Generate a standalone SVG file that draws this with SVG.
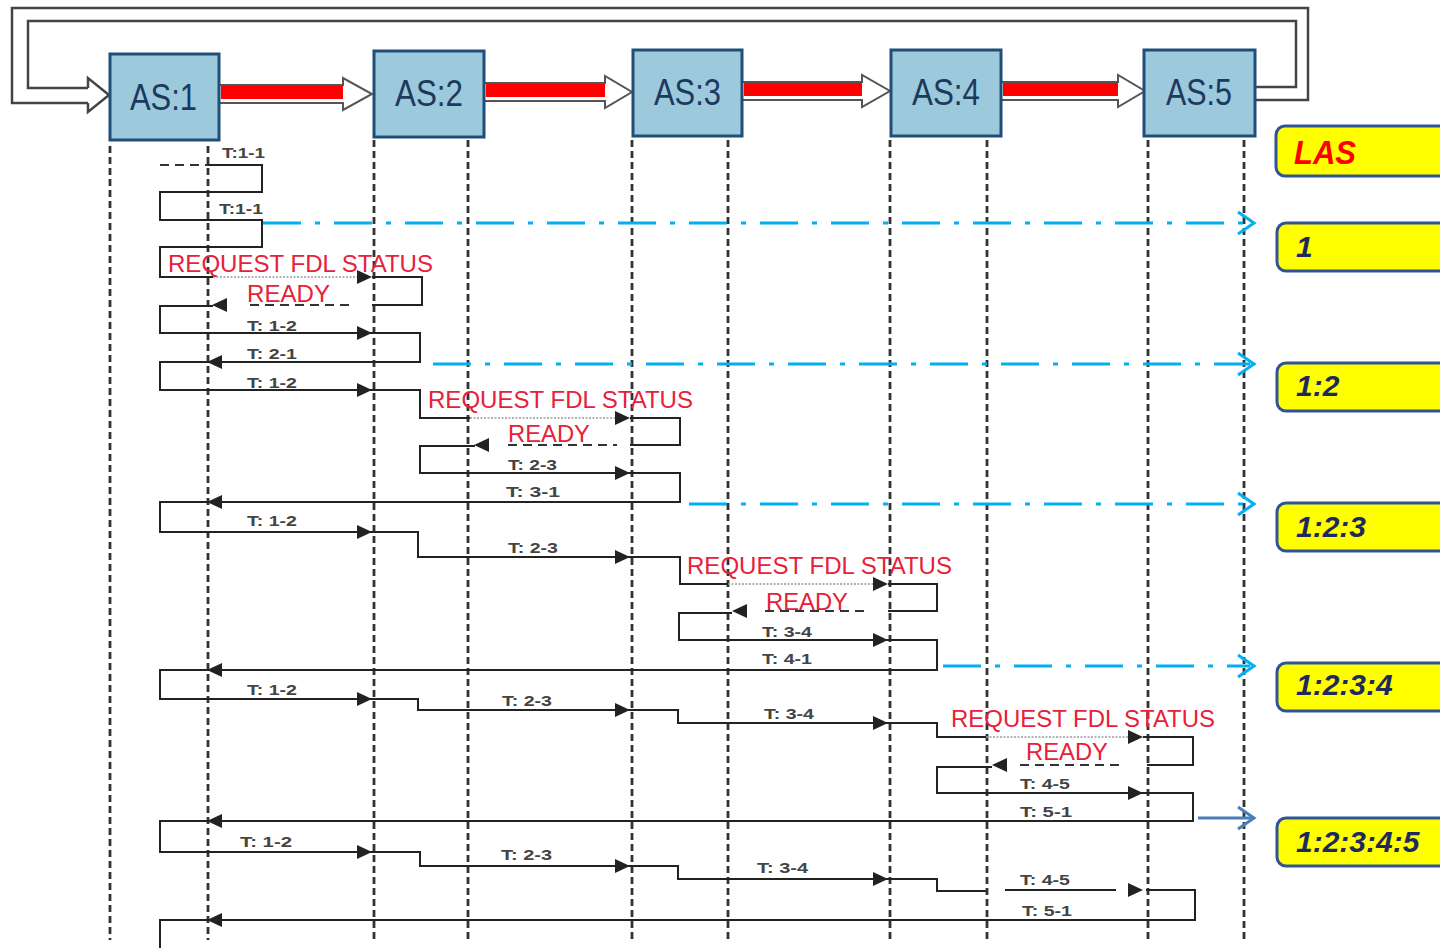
<svg xmlns="http://www.w3.org/2000/svg" width="1440" height="948" viewBox="0 0 1440 948">
<style>
.ll{stroke:#333;stroke-width:2.8;stroke-dasharray:7 4;fill:none}
.ln{stroke:#222;stroke-width:2;fill:none}
.faint{stroke:#9a9a9a;stroke-width:1.3;stroke-dasharray:2 1.5;fill:none}
.dsh{stroke:#333;stroke-width:2;stroke-dasharray:9 6;fill:none}
.blue{stroke:#00b0f0;stroke-width:3;stroke-dasharray:38 14 5 14;fill:none}
.chev{stroke:#00b0f0;stroke-width:3;fill:none}
.loop{stroke:#444;stroke-width:2.5;fill:none}
.blk{fill:#fff;stroke:#555;stroke-width:2}
.red{fill:#ff0000}
.as rect{fill:#9dc9dc;stroke:#1f4e79;stroke-width:3}
.as text{font-family:"Liberation Sans",Arial,sans-serif;font-size:36px;fill:#1c3a5e}
.tl{font-family:"Liberation Sans",Arial,sans-serif;font-size:14px;font-weight:bold;fill:#444}
.req{font-family:"Liberation Sans",Arial,sans-serif;font-size:23.5px;fill:#e8203a}
.lab rect{fill:#ffff00;stroke:#2f5496;stroke-width:3}
.lab text{font-family:"Liberation Sans",Arial,sans-serif;font-size:30px;font-weight:bold;font-style:italic;fill:#1f2a5c}
</style>
<defs>
<path id="aR" d="M0,0 L-15,-7 L-15,7 Z" fill="#222"/>
<path id="aL" d="M0,0 L15,-7 L15,7 Z" fill="#222"/>
</defs>
<rect width="1440" height="948" fill="#fff"/>

<g id="ring">
<path class="loop" d="M1255,100 H1308 V8 H12 V103 H88"/>
<path class="loop" d="M1255,87 H1296 V21 H28 V88 H88"/>
<path class="loop" d="M88,88 V78 L109,95 L88,112 V103"/>
</g>

<g id="passes">
<path class="blk" d="M219,85 H343 V78 L372,94 L343,110 V103 H219"/>
<rect class="red" x="221" y="86" width="122" height="13"/>
<path class="blk" d="M484,83 H605 V76 L632,92 L605,108 V101 H484"/>
<rect class="red" x="486" y="84" width="119" height="13"/>
<path class="blk" d="M742,82 H862 V75 L890,91 L862,107 V100 H742"/>
<rect class="red" x="744" y="83" width="118" height="13"/>
<path class="blk" d="M1001,82 H1118 V75 L1145,91 L1118,107 V100 H1001"/>
<rect class="red" x="1003" y="83" width="115" height="13"/>
</g>

<g id="lifelines">
<path class="ll" d="M110,146 V940 M208,146 V940 M374,140 V940 M468,140 V940 M632,140 V940 M728,140 V940 M890,140 V940 M987,140 V940 M1148,140 V940 M1244,140 V940"/>
</g>

<g id="AS1" class="as"><rect x="110" y="54" width="109" height="86"/><text x="130" y="110" textLength="67" lengthAdjust="spacingAndGlyphs">AS:1</text></g>
<g id="AS2" class="as"><rect x="374" y="51" width="110" height="86"/><text x="395" y="106" textLength="68" lengthAdjust="spacingAndGlyphs">AS:2</text></g>
<g id="AS3" class="as"><rect x="633" y="50" width="109" height="86"/><text x="654" y="105" textLength="67" lengthAdjust="spacingAndGlyphs">AS:3</text></g>
<g id="AS4" class="as"><rect x="891" y="50" width="110" height="86"/><text x="912" y="105" textLength="68" lengthAdjust="spacingAndGlyphs">AS:4</text></g>
<g id="AS5" class="as"><rect x="1144" y="50" width="111" height="86"/><text x="1166" y="105" textLength="66" lengthAdjust="spacingAndGlyphs">AS:5</text></g>

<g id="connectors">
<path d="M160,165 H208" class="dsh"/>
<path class="ln" d="M208,165 H262 V192 H160 V220 H262 V247 H160 V277 H213"/>
<path class="faint" d="M213,277 H360"/>
<use href="#aR" x="372" y="277"/>
<path class="ln" d="M372,277 H422 V305 H372"/>
<path class="dsh" d="M250,305 H355"/>
<use href="#aL" x="212" y="305"/>
<path class="ln" d="M213,306 H160 V333 H420 V362 H160 V390 H420 V418 H470"/>
<use href="#aR" x="372" y="333"/>
<use href="#aL" x="207" y="362"/>
<use href="#aR" x="372" y="390"/>
<path class="faint" d="M470,418 H618"/>
<use href="#aR" x="630" y="418"/>
<path class="ln" d="M630,418 H680 V445 H630"/>
<path class="dsh" d="M508,445 H617"/>
<use href="#aL" x="474" y="445"/>
<path class="ln" d="M475,446 H420 V473 H680 V502 H160 V532 H418 V557 H680 V584 H728"/>
<use href="#aR" x="630" y="473"/>
<use href="#aL" x="207" y="502"/>
<use href="#aR" x="372" y="532"/>
<use href="#aR" x="630" y="557"/>
<path class="faint" d="M728,584 H874"/>
<use href="#aR" x="888" y="584"/>
<path class="ln" d="M888,584 H937 V611 H888"/>
<path class="dsh" d="M765,611 H868"/>
<use href="#aL" x="732" y="611"/>
<path class="ln" d="M732,613 H679 V640 H937 V670 H160 V699 H418 V710 H678 V723 H937 V737 H986"/>
<use href="#aR" x="888" y="640"/>
<use href="#aL" x="207" y="670"/>
<use href="#aR" x="372" y="699"/>
<use href="#aR" x="630" y="710"/>
<use href="#aR" x="888" y="723"/>
<path class="faint" d="M986,737 H1129"/>
<use href="#aR" x="1143" y="737"/>
<path class="ln" d="M1143,737 H1193 V765 H1147"/>
<path class="dsh" d="M1020,765 H1123"/>
<use href="#aL" x="992" y="765"/>
<path class="ln" d="M992,767 H937 V793 H1193 V821 H160 V852 H420 V866 H678 V879 H937 V891 H986"/>
<use href="#aR" x="1143" y="793"/>
<use href="#aL" x="207" y="821"/>
<use href="#aR" x="372" y="852"/>
<use href="#aR" x="630" y="866"/>
<use href="#aR" x="888" y="879"/>
<path class="ln" d="M1005,890 H1116"/>
<use href="#aR" x="1143" y="890"/>
<path class="ln" d="M1146,890 H1195 V920 H160 V948"/>
<use href="#aL" x="207" y="920"/>

<path class="blue" d="M263,223 H1250"/>
<path class="chev" d="M1238,212 L1254,223 L1238,234"/>
<path class="blue" d="M433,364 H1250"/>
<path class="chev" d="M1238,353 L1254,364 L1238,375"/>
<path class="blue" d="M689,504 H1250"/>
<path class="chev" d="M1238,493 L1254,504 L1238,515"/>
<path class="blue" d="M943,666 H1250"/>
<path class="chev" d="M1238,655 L1254,666 L1238,677"/>
<path d="M1198,818 H1252" stroke="#4a7ebb" stroke-width="3" fill="none"/>
<path d="M1238,807 L1254,818 L1238,829" stroke="#4a7ebb" stroke-width="3" fill="none"/>
</g>

<g id="token-labels">
<text class="tl" x="222" y="158" textLength="43" lengthAdjust="spacingAndGlyphs">T:1-1</text>
<text class="tl" x="219" y="214" textLength="44" lengthAdjust="spacingAndGlyphs">T:1-1</text>
<text class="tl" x="247" y="331" textLength="50" lengthAdjust="spacingAndGlyphs">T: 1-2</text>
<text class="tl" x="247" y="359" textLength="50" lengthAdjust="spacingAndGlyphs">T: 2-1</text>
<text class="tl" x="247" y="388" textLength="50" lengthAdjust="spacingAndGlyphs">T: 1-2</text>
<text class="tl" x="508" y="470" textLength="49" lengthAdjust="spacingAndGlyphs">T: 2-3</text>
<text class="tl" x="506" y="497" textLength="54" lengthAdjust="spacingAndGlyphs">T:  3-1</text>
<text class="tl" x="247" y="526" textLength="50" lengthAdjust="spacingAndGlyphs">T: 1-2</text>
<text class="tl" x="508" y="553" textLength="50" lengthAdjust="spacingAndGlyphs">T: 2-3</text>
<text class="tl" x="762" y="637" textLength="50" lengthAdjust="spacingAndGlyphs">T: 3-4</text>
<text class="tl" x="762" y="664" textLength="50" lengthAdjust="spacingAndGlyphs">T: 4-1</text>
<text class="tl" x="247" y="695" textLength="50" lengthAdjust="spacingAndGlyphs">T: 1-2</text>
<text class="tl" x="502" y="706" textLength="50" lengthAdjust="spacingAndGlyphs">T: 2-3</text>
<text class="tl" x="764" y="719" textLength="50" lengthAdjust="spacingAndGlyphs">T: 3-4</text>
<text class="tl" x="1020" y="789" textLength="50" lengthAdjust="spacingAndGlyphs">T: 4-5</text>
<text class="tl" x="1020" y="817" textLength="52" lengthAdjust="spacingAndGlyphs">T: 5-1</text>
<text class="tl" x="240" y="847" textLength="52" lengthAdjust="spacingAndGlyphs">T: 1-2</text>
<text class="tl" x="501" y="860" textLength="51" lengthAdjust="spacingAndGlyphs">T: 2-3</text>
<text class="tl" x="757" y="873" textLength="51" lengthAdjust="spacingAndGlyphs">T: 3-4</text>
<text class="tl" x="1020" y="885" textLength="50" lengthAdjust="spacingAndGlyphs">T: 4-5</text>
<text class="tl" x="1022" y="916" textLength="50" lengthAdjust="spacingAndGlyphs">T: 5-1</text>
</g>

<g id="fdl-labels">
<text class="req" x="168" y="272" textLength="265" lengthAdjust="spacingAndGlyphs">REQUEST FDL STATUS</text>
<text class="req" x="247" y="302" textLength="83" lengthAdjust="spacingAndGlyphs">READY</text>
<text class="req" x="428" y="408" textLength="265" lengthAdjust="spacingAndGlyphs">REQUEST FDL STATUS</text>
<text class="req" x="508" y="442" textLength="82" lengthAdjust="spacingAndGlyphs">READY</text>
<text class="req" x="687" y="574" textLength="265" lengthAdjust="spacingAndGlyphs">REQUEST FDL STATUS</text>
<text class="req" x="766" y="610" textLength="82" lengthAdjust="spacingAndGlyphs">READY</text>
<text class="req" x="951" y="727" textLength="264" lengthAdjust="spacingAndGlyphs">REQUEST FDL STATUS</text>
<text class="req" x="1026" y="760" textLength="82" lengthAdjust="spacingAndGlyphs">READY</text>
</g>

<g id="LAS" class="lab"><rect x="1276" y="126" width="190" height="50" rx="9"/><text x="1294" y="164" textLength="62" lengthAdjust="spacingAndGlyphs" style="fill:#ff0000;font-size:34px">LAS</text></g>
<g id="L1" class="lab"><rect x="1277" y="223" width="190" height="48" rx="9"/><text x="1296" y="257">1</text></g>
<g id="L12" class="lab"><rect x="1277" y="363" width="190" height="48" rx="9"/><text x="1296" y="396">1:2</text></g>
<g id="L123" class="lab"><rect x="1277" y="503" width="190" height="48" rx="9"/><text x="1296" y="537">1:2:3</text></g>
<g id="L1234" class="lab"><rect x="1277" y="663" width="190" height="48" rx="9"/><text x="1296" y="695">1:2:3:4</text></g>
<g id="L12345" class="lab"><rect x="1277" y="818" width="190" height="48" rx="9"/><text x="1296" y="852">1:2:3:4:5</text></g>
</svg>
